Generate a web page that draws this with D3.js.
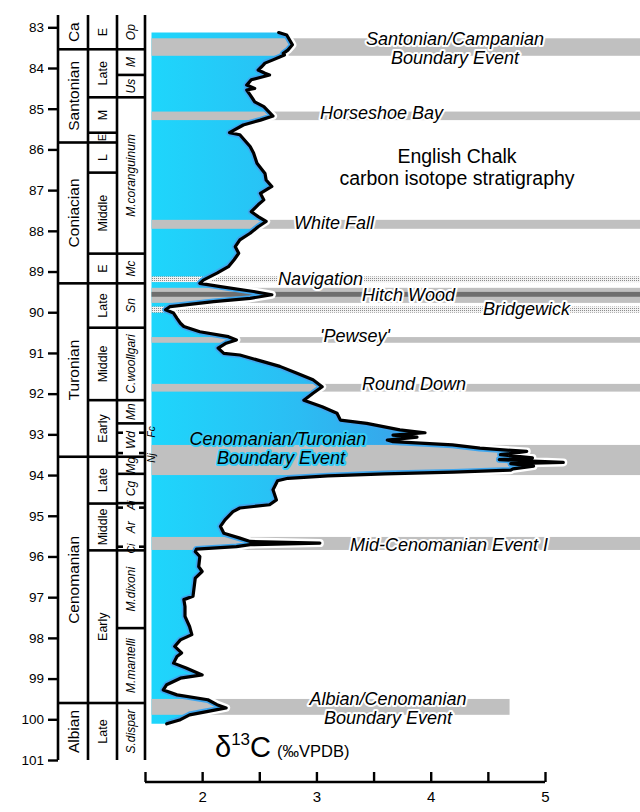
<!DOCTYPE html>
<html><head><meta charset="utf-8">
<script src="https://cdn.jsdelivr.net/npm/d3@7"></script>
<style>
body{margin:0;background:#fff}
svg{display:block}
text{font-family:"Liberation Sans",Arial,Helvetica,sans-serif;fill:#000}
</style>
</head><body>
<svg id="c" width="640" height="812"></svg>
<script>
// ---------- DATA ----------
const ages = [83.13,83.19,83.43,83.56,83.64,83.68,83.80,83.88,83.97,84.05,84.13,84.17,84.29,84.42,84.50,84.54,84.66,84.83,84.95,85.18,85.28,85.40,85.59,85.64,85.77,85.93,86.09,86.34,86.59,86.75,86.91,87.08,87.24,87.36,87.53,87.65,87.77,87.90,88.06,88.22,88.39,88.55,88.71,88.88,89.04,89.21,89.29,89.37,89.49,89.57,89.66,89.74,89.86,89.94,90.02,90.15,90.27,90.35,90.48,90.60,90.68,90.76,90.88,91.01,91.05,91.17,91.33,91.50,91.66,91.83,91.99,92.16,92.32,92.48,92.65,92.73,92.89,92.96,93.02,93.07,93.14,93.18,93.26,93.34,93.42,93.50,93.58,93.62,93.69,93.72,93.78,93.85,93.88,93.93,93.97,94.02,94.08,94.14,94.36,94.61,94.73,94.81,94.90,95.10,95.26,95.43,95.55,95.63,95.67,95.71,95.76,95.82,95.88,96.00,96.25,96.37,96.53,96.98,97.06,97.23,97.47,97.72,97.92,98.05,98.21,98.37,98.46,98.62,98.74,98.91,98.99,99.15,99.28,99.40,99.52,99.64,99.72,99.81,99.89,100.01,100.11];
const d13C = [2.67,2.74,2.79,2.75,2.71,2.72,2.62,2.55,2.52,2.49,2.55,2.59,2.43,2.39,2.46,2.39,2.42,2.46,2.54,2.62,2.51,2.36,2.24,2.33,2.37,2.42,2.45,2.48,2.55,2.56,2.61,2.51,2.54,2.49,2.43,2.49,2.56,2.49,2.42,2.33,2.29,2.32,2.28,2.23,2.13,2.01,1.98,2.16,2.45,2.61,2.42,2.10,1.72,1.68,1.75,1.78,1.81,1.84,1.98,2.23,2.30,2.21,2.14,2.19,2.33,2.48,2.68,2.83,2.97,3.05,2.97,2.89,3.05,3.18,3.21,3.44,3.73,3.95,3.67,3.88,3.62,3.67,4.19,4.43,4.84,4.61,4.89,4.60,5.16,4.70,4.90,4.72,4.70,4.20,3.60,3.10,2.75,2.66,2.62,2.65,2.59,2.33,2.27,2.20,2.16,2.19,2.33,2.42,3.03,2.42,2.30,1.95,1.94,1.98,1.97,2.00,1.94,1.92,1.84,1.85,1.85,1.89,1.91,1.81,1.76,1.82,1.78,1.75,1.86,2.00,1.81,1.69,1.66,1.78,2.05,2.13,2.21,2.04,1.89,1.81,1.69];

const ageTicks = d3.range(83, 102);
const xTicks = [1.5, 2, 2.5, 3, 3.5, 4, 4.5, 5];
const xTickLabels = ["", "2", "", "3", "", "4", "", "5"];

const stageNames = ["Ca","Santonian","Coniacian","Turonian","Cenomanian","Albian"];
const stageBounds = [82.7, 83.54, 85.83, 89.29, 93.55, 99.6, 101];

const substageNames = ["E","Late","M","E","L","Middle","E","Late","Middle","Early","Late","Middle","Early","Late"];
const substageBounds = [82.7, 83.54, 84.72, 85.59, 85.83, 86.57, 88.56, 89.29, 90.38, 92.16, 93.55, 94.70, 95.85, 99.6, 101];

const zoneNames = ["Op","M","Us","M.coranguinum","Mc","Sn","C.woollgari","Mn","Wd","Mg","Cg","Aj","Ar","Ci","M.dixoni","M.mantelli","S.dispar"];
const zoneBounds = [82.7, 83.54, 84.17, 84.72, 88.56, 89.29, 90.38, 92.16, 92.73, 93.55, 93.97, 94.69, 94.80, 95.76, 95.85, 97.76, 99.6, 101];
const zoneTickOnly = [94.80, 95.76];
const zoneExtraTicks = [92.96, 93.46];
const outsideZoneNames = ["Fc", "Nj"];
const outsideZoneAges = [92.94, 93.58];

const bandNames = ["Santonian/Campanian Boundary Event","Horseshoe Bay","White Fall","Navigation","Hitch Wood","Bridgewick","'Pewsey'","Round Down","Cenomanian/Turonian Boundary Event","Mid-Cenomanian Event I","Albian/Cenomanian Boundary Event"];
const bandTop  = [83.27, 85.07, 87.73, 89.12, 89.40, 89.86, 90.61, 91.76, 93.26, 95.52, 99.50];
const bandBase = [83.70, 85.28, 87.95, 89.26, 89.77, 90.01, 90.75, 91.95, 94.00, 95.84, 99.89];
const bandKind = ["solid","solid","solid","dotted","solid","dotted","solid","solid","solid","solid","solid"];
const bandEnd  = [null,null,null,null,null,null,null,null,null,null,4.69];
const hitchCore = [89.50, 89.62];

// ---------- LAYOUT ----------
const W = 640;
const svg = d3.select("#c");
const x = d3.scaleLinear().domain([1.5, 5]).range([145, 545]);
const y = d3.scaleLinear().domain([83, 101]).range([27.3, 760]);
const colX = [58, 88, 117, 145];
const fillLeft = 151.5;
const data = ages.map((a, i) => ({a, v: d13C[i]}));

const defs = svg.append("defs");
const grad = defs.append("linearGradient").attr("id","blueGrad")
  .attr("gradientUnits","userSpaceOnUse").attr("x1",fillLeft).attr("x2",570).attr("y1",0).attr("y2",0);
grad.append("stop").attr("offset",0).attr("stop-color","#1ed6fc");
grad.append("stop").attr("offset",0.35).attr("stop-color","#2bbdf3");
grad.append("stop").attr("offset",1).attr("stop-color","#4a7fdc");

const pat = defs.append("pattern").attr("id","dots").attr("patternUnits","userSpaceOnUse")
  .attr("width",2).attr("height",2);
pat.append("rect").attr("width",2).attr("height",2).attr("fill","#f2f2f2");
pat.append("rect").attr("x",0).attr("y",0).attr("width",1).attr("height",1).attr("fill","#8a8a8a");

const areaInside = d3.area().y(d => y(d.a)).x0(fillLeft).x1(d => x(d.v));
const areaOutside = d3.area().y(d => y(d.a)).x0(d => x(d.v)).x1(W);
const line = d3.line().y(d => y(d.a)).x(d => x(d.v));

defs.append("clipPath").attr("id","clipIn").append("path").attr("d", areaInside(data));
const cOut = defs.append("clipPath").attr("id","clipOut");
cOut.append("path").attr("d", areaOutside(data));
cOut.append("rect").attr("x",0).attr("y",0).attr("width",W).attr("height",y(ages[0]));
cOut.append("rect").attr("x",0).attr("y",y(ages[ages.length-1])).attr("width",W).attr("height",100);

// fill
svg.append("path").attr("d", areaInside(data)).attr("fill","url(#blueGrad)");

// bands
bandNames.forEach((n, i) => {
  const x1 = bandEnd[i] == null ? W : x(bandEnd[i]);
  svg.append("rect").attr("x", fillLeft).attr("y", y(bandTop[i]))
    .attr("width", x1 - fillLeft).attr("height", y(bandBase[i]) - y(bandTop[i]))
    .attr("fill", bandKind[i] === "dotted" ? "url(#dots)" : "#c0c0c0");
});
svg.append("rect").attr("x", fillLeft).attr("y", y(hitchCore[0]))
  .attr("width", W - fillLeft).attr("height", y(hitchCore[1]) - y(hitchCore[0])).attr("fill","#6e6e6e");

// curve halos + line
svg.append("path").attr("d", line(data)).attr("fill","none").attr("stroke","#fff")
  .attr("stroke-width",8).attr("stroke-linejoin","round").attr("clip-path","url(#clipOut)");
svg.append("path").attr("d", line(data)).attr("fill","none").attr("stroke","#3fa6ee")
  .attr("stroke-width",6.5).attr("stroke-linejoin","round").attr("clip-path","url(#clipIn)");
svg.append("path").attr("d", line(data)).attr("fill","none").attr("stroke","#000")
  .attr("stroke-width",3.2).attr("stroke-linejoin","round").attr("stroke-linecap","round");

// band labels
const labelLayout = [
  {t:"Santonian/Campanian", x:455, y:45, a:"middle"},
  {t:"Boundary Event", x:455, y:64, a:"middle"},
  {t:"Horseshoe Bay", x:320, y:119, a:"start"},
  {t:"White Fall", x:294, y:229, a:"start"},
  {t:"Navigation", x:278, y:285, a:"start"},
  {t:"Hitch Wood", x:362, y:301, a:"start"},
  {t:"Bridgewick", x:483, y:315, a:"start"},
  {t:"'Pewsey'", x:320, y:342, a:"start"},
  {t:"Round Down", x:362, y:390, a:"start"},
  {t:"Cenomanian/Turonian", x:278, y:445, a:"middle", halo:"#35cdf7"},
  {t:"Boundary Event", x:281, y:464, a:"middle", halo:"#35cdf7"},
  {t:"Mid-Cenomanian Event I", x:350, y:551, a:"start"},
  {t:"Albian/Cenomanian", x:388, y:705, a:"middle"},
  {t:"Boundary Event", x:388, y:724, a:"middle"}
];
labelLayout.forEach(l => {
  svg.append("text").attr("x", l.x).attr("y", l.y).attr("text-anchor", l.a)
    .style("font-size","18px").style("font-style","italic")
    .attr("stroke", l.halo || "#fff").attr("stroke-width", 4).attr("stroke-linejoin","round")
    .attr("paint-order","stroke").text(l.t);
});

// title
svg.append("text").attr("x",457).attr("y",163).attr("text-anchor","middle").style("font-size","19.5px").text("English Chalk");
svg.append("text").attr("x",457).attr("y",185).attr("text-anchor","middle").style("font-size","19.5px").text("carbon isotope stratigraphy");

// ---------- STRATIGRAPHY COLUMNS ----------
const gLines = svg.append("g");
const gText = svg.append("g");
function drawColumn(ci, bounds, names, opts) {
  const x0 = colX[ci], x1 = colX[ci+1];
  bounds.slice(1, -1).forEach(b => {
    if (opts.tickOnly && opts.tickOnly.includes(b)) return;
    gLines.append("line").attr("x1", x0).attr("x2", x1).attr("y1", y(b)).attr("y2", y(b))
      .attr("stroke","#000").attr("stroke-width",2.6);
  });
  names.forEach((n, i) => {
    const yc = (y(bounds[i]) + y(bounds[i+1])) / 2;
    const xc = (x0 + x1) / 2;
    const small = (y(bounds[i+1]) - y(bounds[i])) < 14;
    gText.append("text").attr("transform", `translate(${xc},${yc}) rotate(-90)`)
      .attr("text-anchor","middle").attr("dy","0.36em")
      .style("font-size", (small ? opts.fs - 1.5 : opts.fs) + "px")
      .style("font-style", opts.italic ? "italic" : "normal").text(n);
  });
}
drawColumn(0, stageBounds, stageNames, {fs:15.5});
drawColumn(1, substageBounds, substageNames, {fs:12.5});
drawColumn(2, zoneBounds, zoneNames, {fs:12, italic:true, tickOnly: zoneTickOnly});

zoneTickOnly.concat(zoneExtraTicks).forEach(b => {
  [[colX[2], colX[2]+6], [colX[3]-6, colX[3]]].forEach(([a, c]) => {
    gLines.append("line").attr("x1", a).attr("x2", c).attr("y1", y(b)).attr("y2", y(b))
      .attr("stroke","#000").attr("stroke-width",2.6);
  });
});
outsideZoneNames.forEach((n, i) => {
  gText.append("text").attr("transform", `translate(${colX[3]+6},${y(outsideZoneAges[i])}) rotate(-90)`)
    .attr("text-anchor","middle").attr("dy","0.36em").style("font-size","10px").style("font-style","italic").text(n);
});
colX.forEach(cx => {
  gLines.append("line").attr("x1", cx).attr("x2", cx).attr("y1", y(82.7)).attr("y2", y(101))
    .attr("stroke","#000").attr("stroke-width",2.6);
});

// y axis
const yAxis = d3.axisLeft(y).tickValues(ageTicks).tickSize(10).tickPadding(4).tickFormat(d3.format("d"));
const ya = svg.append("g").attr("transform", `translate(${colX[0]},0)`).call(yAxis);
ya.select(".domain").remove();
ya.selectAll(".tick line").attr("stroke-width",2.4);
ya.selectAll(".tick text").style("font-size","13.5px").style("font-family","'Liberation Sans',Arial,sans-serif").attr("fill","#222");

// x axis
const xAxis = d3.axisBottom(x).tickValues(xTicks).tickSize(-10).tickPadding(9)
  .tickFormat((d, i) => xTickLabels[i]);
const xa = svg.append("g").attr("transform", "translate(0,782)").call(xAxis);
xa.select(".domain").attr("d", `M${x(1.5)},0H${x(5)}`).attr("stroke-width",2.6);
xa.selectAll(".tick line").attr("stroke-width",2.4);
xa.selectAll(".tick text").style("font-size","15px").style("font-family","'Liberation Sans',Arial,sans-serif").attr("fill","#222");

// x axis title
const tt = svg.append("text").attr("x", 215).attr("y", 757);
tt.append("tspan").style("font-size","29px").text("δ");
tt.append("tspan").style("font-size","17px").attr("dy", -12).text("13");
tt.append("tspan").style("font-size","29px").attr("dy", 12).text("C");
tt.append("tspan").style("font-size","16.5px").attr("dx", 6).text("(‰VPDB)");
</script>
</body></html>
